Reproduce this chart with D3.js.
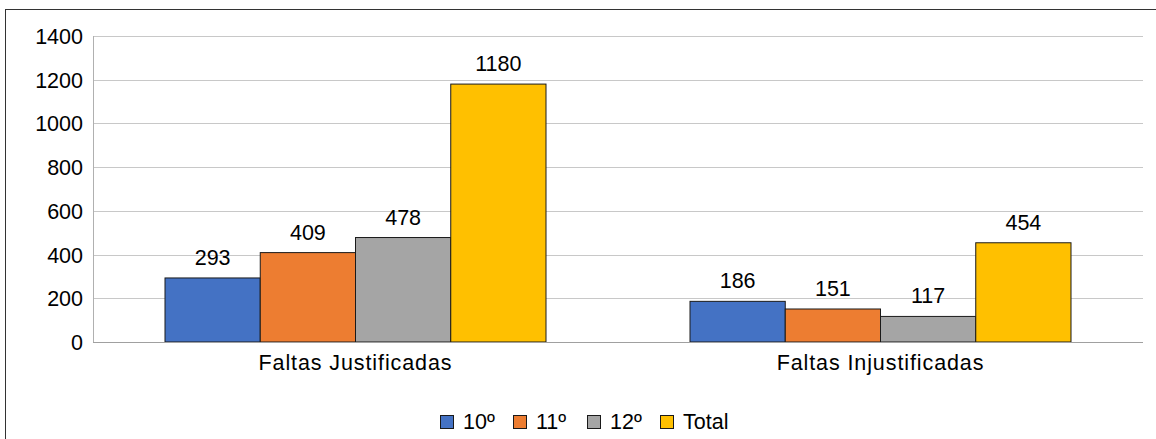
<!DOCTYPE html>
<html>
<head>
<meta charset="utf-8">
<script src="https://cdn.jsdelivr.net/npm/d3@7"></script>
<style>
  body { margin: 0; background: #fff; }
  text { font-family: "Liberation Sans", Arial, sans-serif; fill: #000; }
</style>
</head>
<body>
<svg id="chart" width="1156" height="439"></svg>
<script>
var categories = ['Faltas Justificadas', 'Faltas Injustificadas'];
var series = ['10º', '11º', '12º', 'Total'];
var values10 = [293, 186];
var values11 = [409, 151];
var values12 = [478, 117];
var valuesTotal = [1180, 454];
var yTicks = [0, 200, 400, 600, 800, 1000, 1200, 1400];
var colors = ['#4472C4', '#ED7D31', '#A5A5A5', '#FFC000'];

var allValues = [values10, values11, values12, valuesTotal];
var fs = '21.5px';

var svg = d3.select('#chart');

// outer frame (runs off the right and bottom of the picture)
svg.append('rect')
    .attr('x', 5.5).attr('y', 9.5)
    .attr('width', 1200).attr('height', 500)
    .attr('fill', 'none')
    .attr('stroke', '#333')
    .attr('stroke-width', 1);

var plotL = 93, plotR = 1143, plotT = 36, plotB = 342;

var y = d3.scaleLinear().domain([0, 1400]).range([plotB, plotT]);
var x0 = d3.scaleBand().domain(categories).range([plotL, plotR]);
var x1 = d3.scaleBand().domain(series).range([72, x0.bandwidth() - 72]);

// gridlines
svg.append('g').selectAll('line')
    .data(yTicks.filter(function (d) { return d > 0; }))
    .enter().append('line')
    .attr('x1', plotL).attr('x2', plotR)
    .attr('y1', function (d) { return Math.round(y(d)) + 0.5; })
    .attr('y2', function (d) { return Math.round(y(d)) + 0.5; })
    .attr('stroke', '#c8c8c8')
    .attr('stroke-width', 1);

// y axis labels
var yAxis = d3.axisLeft(y).tickValues(yTicks).tickFormat(d3.format('d')).tickSize(0).tickPadding(10);
var gy = svg.append('g').attr('transform', 'translate(' + plotL + ',0)').call(yAxis);
gy.select('.domain').remove();
gy.attr('font-family', null).attr('font-size', null);
gy.selectAll('text').style('font-size', fs).attr('dy', '0.35em');

// vertical axis line
svg.append('line')
    .attr('x1', plotL + 0.5).attr('x2', plotL + 0.5)
    .attr('y1', plotT).attr('y2', plotB)
    .attr('stroke', '#b0b0b0');

// bars
var groups = svg.append('g').selectAll('g')
    .data(categories)
    .enter().append('g')
    .attr('transform', function (d) { return 'translate(' + x0(d) + ',0)'; });

groups.each(function (cat, ci) {
    var g = d3.select(this);
    series.forEach(function (s, si) {
        var v = allValues[si][ci];
        g.append('rect')
            .attr('x', x1(s))
            .attr('y', y(v))
            .attr('width', x1.bandwidth())
            .attr('height', plotB - y(v))
            .attr('fill', colors[si])
            .attr('stroke', '#1a1a1a')
            .attr('stroke-width', 1);
        g.append('text')
            .attr('x', x1(s) + x1.bandwidth() / 2)
            .attr('y', y(v) - 13)
            .attr('text-anchor', 'middle')
            .style('font-size', fs)
            .text(v);
    });
});

// baseline
svg.append('line')
    .attr('x1', plotL).attr('x2', plotR)
    .attr('y1', plotB + 0.5).attr('y2', plotB + 0.5)
    .attr('stroke', '#a0a0a0');

// category labels
svg.append('g').selectAll('text')
    .data(categories)
    .enter().append('text')
    .attr('x', function (d) { return x0(d) + x0.bandwidth() / 2; })
    .attr('y', 370)
    .attr('text-anchor', 'middle')
    .style('font-size', fs)
    .style('letter-spacing', '0.9px')
    .text(function (d) { return d; });

// legend
var legendX = [440, 513, 587, 660];
var legend = svg.append('g').selectAll('g')
    .data(series)
    .enter().append('g')
    .attr('transform', function (d, i) { return 'translate(' + legendX[i] + ',415)'; });
legend.append('rect')
    .attr('x', 0.5).attr('y', 0.5)
    .attr('width', 13).attr('height', 13)
    .attr('fill', function (d, i) { return colors[i]; })
    .attr('stroke', '#1a1a1a');
legend.append('text')
    .attr('x', 23).attr('y', 14)
    .style('font-size', fs)
    .text(function (d) { return d; });
</script>
</body>
</html>
